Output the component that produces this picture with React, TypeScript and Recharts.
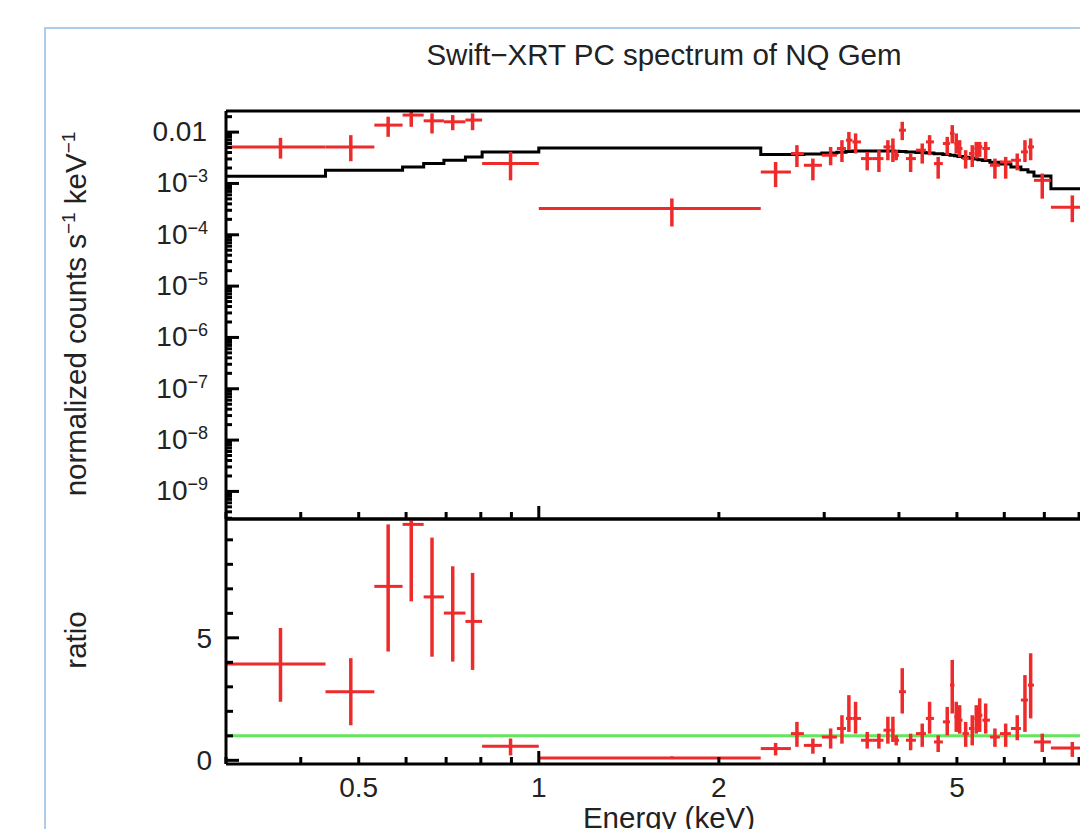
import React from 'react'
import { ComposedChart, Line, Scatter, ErrorBar, XAxis, YAxis, ReferenceLine } from 'recharts'

// Swift-XRT PC spectrum of NQ Gem: folded spectrum (top) and data/model ratio (bottom)

const FONT = '"Liberation Sans", Arial, Helvetica, sans-serif'
const RED = '#ee2a2a'
const GREEN = '#62e65c'
const INK = '#000'

// energy bins (keV): lower edges and plotted centres
const E_LO = [
  0.3, 0.44, 0.531, 0.592, 0.642, 0.694, 0.754, 0.804, 1.0,
  2.35, 2.639, 2.774, 2.973, 3.15, 3.262, 3.344, 3.456, 3.618, 3.769, 3.871,
  3.931, 4.0, 4.109, 4.27, 4.438, 4.577, 4.737, 4.868, 4.953, 5.02,
  5.108, 5.236, 5.349, 5.421, 5.515, 5.677, 5.899, 6.155, 6.397, 6.572,
  6.726, 7.18,
]
const E_LAST_HI = 8.48
const E_HI = [...E_LO.slice(1), E_LAST_HI]
const E_MID = [
  0.37, 0.485, 0.56, 0.612, 0.663, 0.718, 0.775, 0.897, 1.669,
  2.488, 2.701, 2.872, 3.075, 3.212, 3.299, 3.385, 3.54, 3.703, 3.833,
  3.908, 3.958, 4.051, 4.184, 4.375, 4.501, 4.652, 4.817, 4.911, 4.987,
  5.053, 5.171, 5.304, 5.386, 5.458, 5.585, 5.788, 6.032, 6.307, 6.497,
  6.641, 6.944, 7.796,
]

// normalized counts s^-1 keV^-1
const FLUX = [
  5.15e-3, 5.15e-3, 0.0137, 0.0215, 0.0166, 0.0159, 0.0172, 2.44e-3, 3.26e-4,
  1.67e-3, 3.83e-3, 2.26e-3, 3.55e-3, 4.8e-3, 6.97e-3, 6.45e-3, 3.05e-3, 3.05e-3, 5.15e-3,
  5.15e-3, 3.55e-3, 0.0109, 3.05e-3, 4.45e-3, 6.45e-3, 2.44e-3, 6.0e-3, 9.44e-3, 6.0e-3,
  4.8e-3, 3.05e-3, 3.83e-3, 4.8e-3, 5.15e-3, 4.8e-3, 2.26e-3, 2.62e-3, 2.83e-3, 4.12e-3,
  5.15e-3, 1.15e-3, 3.45e-4,
]
const FLUX_LO = [
  3.05e-3, 2.71e-3, 8.1e-3, 0.0127, 9.4e-3, 0.0109, 0.0109, 1.15e-3, 1.45e-4,
  8.5e-4, 2.09e-3, 1.15e-3, 2.26e-3, 2.62e-3, 4.45e-3, 3.83e-3, 1.8e-3, 1.67e-3, 2.83e-3,
  2.62e-3, 2.83e-3, 6.97e-3, 1.67e-3, 2.44e-3, 3.55e-3, 1.24e-3, 3.55e-3, 6.01e-3, 3.83e-3,
  3.29e-3, 1.95e-3, 2.09e-3, 3.05e-3, 3.29e-3, 2.83e-3, 1.24e-3, 1.24e-3, 1.8e-3, 2.62e-3,
  2.83e-3, 5.05e-4, 1.76e-4,
]
const FLUX_HI = [
  7.73e-3, 8.73e-3, 0.02, 0.0258, 0.0232, 0.0215, 0.0232, 4.11e-3, 5.1e-4,
  2.62e-3, 5.57e-3, 3.05e-3, 5.15e-3, 6.97e-3, 0.0101, 9.44e-3, 4.11e-3, 4.45e-3, 6.97e-3,
  7.53e-3, 4.45e-3, 0.0159, 3.83e-3, 6.01e-3, 8.73e-3, 3.29e-3, 8.09e-3, 0.0137, 9.44e-3,
  6.97e-3, 4.45e-3, 5.57e-3, 6.45e-3, 6.45e-3, 6.45e-3, 3.05e-3, 3.29e-3, 3.83e-3, 6.97e-3,
  7.53e-3, 1.56e-3, 5.85e-4,
]
// folded model, one value per bin
const MODEL = [
  1.38e-3, 1.8e-3, 1.8e-3, 2.09e-3, 2.44e-3, 2.83e-3, 3.29e-3, 4.11e-3, 4.93e-3,
  3.66e-3, 3.66e-3, 3.75e-3, 3.9e-3, 4.05e-3, 4.2e-3, 4.3e-3, 4.3e-3, 4.3e-3, 4.3e-3,
  4.3e-3, 4.25e-3, 4.2e-3, 4.1e-3, 4.0e-3, 3.9e-3, 3.8e-3, 3.65e-3, 3.55e-3, 3.45e-3,
  3.35e-3, 3.25e-3, 3.1e-3, 3.0e-3, 2.9e-3, 2.8e-3, 2.6e-3, 2.4e-3, 2.1e-3, 1.85e-3,
  1.67e-3, 1.4e-3, 7.9e-4,
]

// data / model ratio
const RATIO = [
  3.93, 2.8, 7.1, 9.63, 6.67, 6.01, 5.67, 0.57, 0.1,
  0.48, 1.09, 0.61, 0.95, 1.3, 1.71, 1.71, 0.82, 0.82, 1.23,
  1.23, 0.82, 2.8, 0.82, 1.09, 1.71, 0.75, 1.57, 3.07, 1.78,
  1.64, 1.09, 1.3, 1.71, 1.84, 1.64, 0.95, 1.09, 1.3, 2.46,
  3.07, 0.75, 0.5,
]
const RATIO_LO = [
  2.39, 1.43, 4.44, 6.49, 4.23, 4.03, 3.69, 0.2, 0.05,
  0.2, 0.55, 0.27, 0.48, 0.68, 1.16, 1.09, 0.48, 0.48, 0.68,
  0.75, 0.61, 1.91, 0.41, 0.55, 1.09, 0.34, 1.02, 1.91, 1.16,
  1.09, 0.55, 0.61, 1.09, 1.16, 1.09, 0.55, 0.55, 0.82, 1.16,
  1.71, 0.34, 0.14,
]
const RATIO_HI = [
  5.4, 4.17, 9.63, 9.85, 9.09, 7.92, 7.65, 0.89, 0.16,
  0.71, 1.57, 0.89, 1.3, 1.84, 2.66, 2.39, 1.16, 1.09, 1.78,
  1.78, 1.02, 3.76, 1.09, 1.5, 2.39, 1.02, 2.18, 4.1, 2.39,
  2.25, 1.57, 1.84, 2.25, 2.53, 2.32, 1.3, 1.5, 1.84, 3.48,
  4.37, 1.09, 0.75,
]

// axes
const X_DOMAIN = [0.3, 10]
const X_TICKS = [0.3, 0.4, 0.5, 0.6, 0.7, 0.8, 0.9, 1, 2, 3, 4, 5, 6, 7, 8, 9, 10]
const X_MAJOR = [1, 10]
const X_LABEL_VALUES = [0.5, 1, 2, 5]
const X_LABEL_TEXT = ['0.5', '1', '2', '5']

const FLUX_DOMAIN = [2.9e-10, 0.0258]
const FLUX_DECADES = [-10, -9, -8, -7, -6, -5, -4, -3, -2]
const FLUX_TICKS = FLUX_DECADES.flatMap(d => [1, 2, 3, 4, 5, 6, 7, 8, 9].map(m => m * Math.pow(10, d)))
  .filter(v => v >= FLUX_DOMAIN[0] && v <= FLUX_DOMAIN[1])

const RATIO_DOMAIN = [-0.15, 9.85]
const RATIO_TICKS = [0, 1, 2, 3, 4, 5, 6, 7, 8, 9]
const RATIO_LABELS = [0, 5]

const specData = E_MID.map((e, i) => ({
  e,
  eErr: [e - E_LO[i], E_HI[i] - e],
  f: FLUX[i],
  fErr: [FLUX[i] - FLUX_LO[i], FLUX_HI[i] - FLUX[i]],
  r: RATIO[i],
  rErr: [RATIO[i] - RATIO_LO[i], RATIO_HI[i] - RATIO[i]],
}))

const modelData = [
  ...E_LO.map((e, i) => ({ e, m: MODEL[i] })),
  { e: E_LAST_HI, m: MODEL[MODEL.length - 1] },
]

const noShape = () => <g />

function XTick(props: any) {
  const { x, y, payload, dir, showLabels } = props
  const v = payload.value
  const len = X_MAJOR.includes(v) ? 13 : 7
  const li = X_LABEL_VALUES.indexOf(v)
  return (
    <g>
      <line x1={x} y1={y} x2={x} y2={y + dir * len} stroke={INK} strokeWidth={3} />
      {showLabels && li >= 0 && (
        <text x={x} y={y + 33} textAnchor="middle" fontSize={28} fontFamily={FONT} fill="#222">
          {X_LABEL_TEXT[li]}
        </text>
      )}
    </g>
  )
}

function LogYTick(props: any) {
  const { x, y, payload } = props
  const lg = Math.log10(payload.value)
  const exp = Math.round(lg)
  const major = Math.abs(lg - exp) < 1e-6
  return (
    <g>
      <line x1={x} y1={y} x2={x + (major ? 13 : 6)} y2={y} stroke={INK} strokeWidth={3} />
      {major && (exp === -2 ? (
        <text x={x - 19} y={y + 9} textAnchor="end" fontSize={28} fontFamily={FONT} fill="#222">0.01</text>
      ) : (
        <text x={x - 18} y={y + 9} textAnchor="end" fontSize={28} fontFamily={FONT} fill="#222">
          10<tspan dy={-10} fontSize={18}>{`−${-exp}`}</tspan>
        </text>
      ))}
    </g>
  )
}

function RatioYTick(props: any) {
  const { x, y, payload } = props
  const v = payload.value
  const labelled = RATIO_LABELS.includes(v)
  return (
    <g>
      <line x1={x} y1={y} x2={x + (labelled ? 13 : 7)} y2={y} stroke={INK} strokeWidth={3} />
      {labelled && (
        <text x={x - 14} y={y + 10} textAnchor="end" fontSize={28} fontFamily={FONT} fill="#222">{v}</text>
      )}
    </g>
  )
}

const axisLine = { stroke: INK, strokeWidth: 3 }

// bottom axis (ticks pointing up) and mirrored top axis (ticks pointing down)
function xAxes(labelsBottom: boolean) {
  return [
    <XAxis key="xb" dataKey="e" type="number" scale="log" domain={X_DOMAIN} ticks={X_TICKS} interval={0}
      allowDataOverflow height={1} tickSize={0} tickMargin={0} tickLine={false} axisLine={axisLine}
      tick={(p: any) => <XTick {...p} dir={-1} showLabels={labelsBottom} />} />,
    <XAxis key="xt" xAxisId="top" orientation="top" type="number" scale="log" domain={X_DOMAIN} ticks={X_TICKS}
      interval={0} allowDataOverflow height={1} tickSize={0} tickMargin={0} tickLine={false} axisLine={axisLine}
      tick={(p: any) => <XTick {...p} dir={1} showLabels={false} />} />,
  ]
}

export default function App() {
  return (
    <div style={{ position: 'fixed', left: 0, top: 0, width: 1080, height: 829, overflow: 'hidden', background: '#fff', fontFamily: FONT }}>
      <div style={{ position: 'absolute', left: 44, top: 27, width: 1200, height: 1000, border: '2px solid #aecbe8' }} />

      <div style={{ position: 'absolute', left: 0, top: 0 }}>
        <ComposedChart width={1180} height={530} margin={{ top: 110, right: 43, bottom: 10, left: 166 }}>
          {xAxes(false)}
          <YAxis dataKey="f" type="number" scale="log" domain={FLUX_DOMAIN} ticks={FLUX_TICKS} interval={0}
            allowDataOverflow width={60} tickSize={0} tickMargin={0} tickLine={false} axisLine={axisLine}
            tick={(p: any) => <LogYTick {...p} />} />
          <Line data={modelData} dataKey="m" type="stepAfter" stroke={INK} strokeWidth={3} dot={false}
            activeDot={false} isAnimationActive={false} />
          <Scatter data={specData} dataKey="f" shape={noShape} isAnimationActive={false} legendType="none">
            <ErrorBar dataKey="fErr" direction="y" width={0} stroke={RED} strokeWidth={3.5} isAnimationActive={false} />
            <ErrorBar dataKey="eErr" direction="x" width={0} stroke={RED} strokeWidth={3} isAnimationActive={false} />
          </Scatter>
        </ComposedChart>
      </div>

      <div style={{ position: 'absolute', left: 0, top: 500 }}>
        <ComposedChart width={1180} height={329} margin={{ top: 18, right: 43, bottom: 64, left: 166 }}>
          {xAxes(true)}
          <YAxis dataKey="r" type="number" domain={RATIO_DOMAIN} ticks={RATIO_TICKS} interval={0}
            allowDataOverflow width={60} tickSize={0} tickMargin={0} tickLine={false} axisLine={axisLine}
            tick={(p: any) => <RatioYTick {...p} />} />
          <ReferenceLine y={1} stroke={GREEN} strokeWidth={3} />
          <Scatter data={specData} dataKey="r" shape={noShape} isAnimationActive={false} legendType="none">
            <ErrorBar dataKey="rErr" direction="y" width={0} stroke={RED} strokeWidth={3.5} isAnimationActive={false} />
            <ErrorBar dataKey="eErr" direction="x" width={0} stroke={RED} strokeWidth={3} isAnimationActive={false} />
          </Scatter>
        </ComposedChart>
      </div>

      <svg width={1080} height={829} style={{ position: 'absolute', left: 0, top: 0, pointerEvents: 'none' }}>
        <text x={664} y={65} textAnchor="middle" fontSize={29.5} fontFamily={FONT} fill="#222">
          Swift−XRT PC spectrum of NQ Gem
        </text>
        <text transform="translate(86,314) rotate(-90)" textAnchor="middle" fontSize={29.5} fontFamily={FONT} fill="#222">
          normalized counts s<tspan dy={-11} fontSize={19}>−1</tspan><tspan dy={11}> keV</tspan>
          <tspan dy={-11} fontSize={19}>−1</tspan>
        </text>
        <text transform="translate(86,640) rotate(-90)" textAnchor="middle" fontSize={29.5} fontFamily={FONT} fill="#222">
          ratio
        </text>
        <text x={669} y={828} textAnchor="middle" fontSize={29.5} fontFamily={FONT} fill="#222">
          Energy (keV)
        </text>
      </svg>
    </div>
  )
}
